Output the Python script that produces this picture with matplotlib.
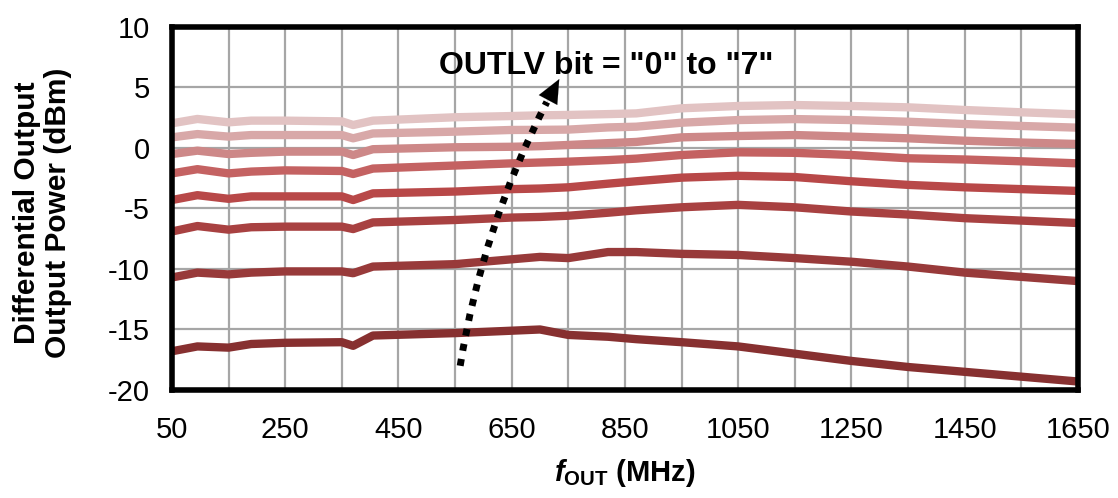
import matplotlib.pyplot as plt
import numpy as np

plt.rcParams['font.family'] = ['Liberation Sans', 'DejaVu Sans']
plt.rcParams['axes.unicode_minus'] = False
plt.rcParams['mathtext.fontset'] = 'custom'
plt.rcParams['mathtext.it'] = 'Liberation Sans:italic:bold'
plt.rcParams['mathtext.bf'] = 'Liberation Sans:bold'
plt.rcParams['mathtext.rm'] = 'Liberation Sans:bold'

# frequency points (MHz)
freq = [50, 95, 150, 190, 250, 350, 370, 405, 550, 650, 700, 750, 820, 870,
        950, 1050, 1150, 1250, 1350, 1450, 1550, 1650]

# output power per OUTLV setting, dBm
outlv0 = [-16.8, -16.4, -16.5, -16.2, -16.1, -16.05, -16.35, -15.5, -15.3, -15.1, -15.0,
          -15.45, -15.6, -15.8, -16.05, -16.4, -17.0, -17.6, -18.1, -18.5, -18.9, -19.3]
outlv1 = [-10.7, -10.3, -10.45, -10.3, -10.2, -10.2, -10.35, -9.8, -9.6, -9.2, -9.0,
          -9.1, -8.6, -8.6, -8.75, -8.84, -9.1, -9.4, -9.8, -10.3, -10.65, -11.0]
outlv2 = [-6.9, -6.45, -6.75, -6.55, -6.5, -6.5, -6.7, -6.15, -5.95, -5.75, -5.7,
          -5.6, -5.35, -5.15, -4.9, -4.7, -4.9, -5.25, -5.5, -5.8, -6.0, -6.2]
outlv3 = [-4.3, -3.9, -4.2, -4.0, -4.0, -4.0, -4.3, -3.75, -3.6, -3.4, -3.35,
          -3.25, -2.95, -2.75, -2.45, -2.3, -2.4, -2.75, -3.05, -3.25, -3.4, -3.55]
outlv4 = [-2.1, -1.75, -2.1, -1.95, -1.85, -1.9, -2.15, -1.7, -1.45, -1.27, -1.2,
          -1.13, -1.0, -0.88, -0.58, -0.36, -0.4, -0.58, -0.85, -0.95, -1.1, -1.27]
outlv5 = [-0.5, -0.22, -0.5, -0.4, -0.3, -0.3, -0.58, -0.1, 0.06, 0.1, 0.15,
          0.25, 0.4, 0.5, 0.88, 0.99, 1.07, 0.94, 0.8, 0.6, 0.45, 0.33]
outlv6 = [0.88, 1.15, 0.94, 1.07, 1.07, 1.07, 0.8, 1.2, 1.35, 1.49, 1.5,
          1.52, 1.7, 1.76, 2.09, 2.31, 2.39, 2.31, 2.17, 1.98, 1.82, 1.68]
outlv7 = [2.04, 2.4, 2.12, 2.26, 2.26, 2.2, 1.9, 2.26, 2.54, 2.64, 2.7,
          2.73, 2.8, 2.86, 3.28, 3.47, 3.55, 3.47, 3.36, 3.14, 2.95, 2.78]

series = [outlv0, outlv1, outlv2, outlv3, outlv4, outlv5, outlv6, outlv7]
colors = ['#873030', '#983a3a', '#a84141', '#b84848', '#c46262', '#cd8888',
          '#d8a8a8', '#e2c3c3']

fig = plt.figure(figsize=(11.18, 4.98), dpi=100)
ax = fig.add_axes([0.1538, 0.2169, 0.8104, 0.7289])

for y, c in zip(series, colors):
    ax.plot(freq, y, color=c, linewidth=6, solid_capstyle='butt',
            solid_joinstyle='round', zorder=3)

ax.set_xlim(50, 1650)
ax.set_ylim(-20, 10)
ax.set_xticks(np.arange(50, 1651, 100), minor=True)
ax.set_xticks(np.arange(50, 1651, 200))
ax.set_yticks(np.arange(-20, 11, 5))
ax.grid(True, which='both', color='#a6a6a6', linewidth=1.6, zorder=1)
ax.tick_params(which='both', length=0)
ax.tick_params(axis='x', pad=19, labelsize=21)
ax.tick_params(axis='y', pad=16, labelsize=21)
for s in ax.spines.values():
    s.set_linewidth(4)
    s.set_zorder(5)

fig.text(0.038, 0.572, 'Differential Output\nOutput Power (dBm)', fontsize=21.5,
         fontweight='bold', rotation=90, ha='center', va='center', linespacing=1.1)
ax.set_xlabel(r'$\mathit{f}_{\mathbf{OUT}}$ (MHz)', fontsize=21, fontweight='bold', labelpad=9)

# dotted shaft, then solid head
ax.annotate('', xy=(712, 3.8), xytext=(559, -18.0),
            arrowprops=dict(arrowstyle='-', color='black', linewidth=5,
                            linestyle=(0, (1.0, 1.2)), capstyle='butt',
                            connectionstyle='arc3,rad=-0.08', shrinkA=0, shrinkB=0),
            zorder=6)
ax.annotate('', xy=(734, 5.7), xytext=(710, 3.6),
            arrowprops=dict(arrowstyle='-|>,head_length=1.7,head_width=0.75', color='black',
                            linewidth=0.1, shrinkA=0, shrinkB=0),
            zorder=6)
ax.text(817, 6.8, 'OUTLV bit = "0" to "7"', fontsize=23, fontweight='bold',
        ha='center', va='center', zorder=6)

fig.savefig('out.png', dpi=100)
